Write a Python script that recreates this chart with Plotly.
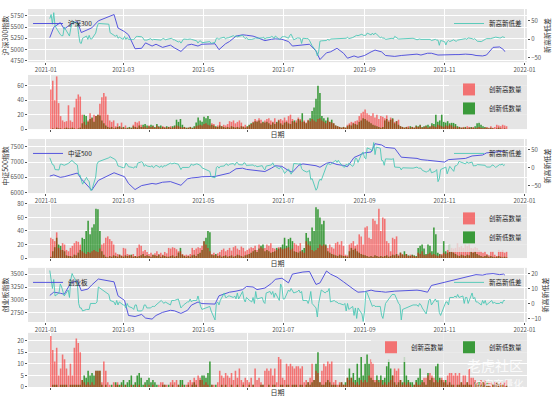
import pandas as pd
import plotly.graph_objects as go

# ---------------- data ----------------
holidays = ["2021-02-11", "2021-02-12", "2021-02-15", "2021-02-16", "2021-02-17",
            "2021-04-05", "2021-05-03", "2021-05-04", "2021-05-05", "2021-06-14",
            "2021-09-20", "2021-09-21", "2021-10-01", "2021-10-04", "2021-10-05",
            "2021-10-06", "2021-10-07"]
trade_days = [d for d in pd.bdate_range("2021-01-04", "2021-12-17")
              if d.strftime("%Y-%m-%d") not in holidays]

# index closes sampled every third trading day (plus the last day)
line_idx = list(range(0, 232, 3)) + [232]

hs300 = [5267, 5496, 5600, 5458, 5565, 5626, 5380, 5450, 5484, 5640,
         5780, 5480, 5400, 5330, 5020, 5030, 5150, 5080, 5120, 5050,
         5100, 5040, 4960, 5100, 5120, 5080, 5120, 5130, 5000, 5130,
         5180, 5300, 5330, 5320, 5300, 5270, 5200, 5230, 5240, 5230,
         5180, 5080, 5100, 5110, 5120, 4970, 4780, 4930, 4950, 5030,
         4920, 4810, 4860, 4830, 4870, 4950, 4990, 4950, 4870, 4850,
         4870, 4900, 4880, 4920, 4920, 4880, 4890, 4880, 4890, 4890,
         4900, 4890, 4870, 4860, 4880, 5050, 5060, 5000,
         4955]
zz500 = [6540, 6580, 6500, 6520, 6580, 6640, 6450, 6200, 6080, 6400,
         6650, 6600, 6520, 6300, 6100, 6230, 6250, 6300, 6280, 6340,
         6360, 6320, 6240, 6450, 6480, 6500, 6520, 6530, 6560, 6600,
         6640, 6780, 6800, 6760, 6740, 6730, 6690, 6800, 6880, 6860,
         6720, 6670, 6900, 6940, 6920, 6880, 6830, 6960, 6990, 6920,
         6890, 6850, 7150, 7200, 7300, 7330, 7600, 7560, 7480, 7450,
         7160, 7120, 7080, 7060, 7050, 7040, 7000, 7080, 7090, 7100,
         7120, 7200, 7210, 7230, 7300, 7320, 7340, 7340,
         7360]
cyb = [3087, 3150, 3130, 3110, 3330, 3370, 3180, 3210, 3290, 3405,
       3350, 3080, 2990, 2700, 2680, 2720, 2650, 2630, 2700, 2760,
       2800, 2790, 2740, 2800, 2900, 2960, 2930, 2920, 3080, 3120,
       3150, 3170, 3200, 3260, 3250, 3200, 3230, 3320, 3400, 3420,
       3330, 3500, 3530, 3540, 3550, 3300, 3330, 3560, 3500, 3440,
       3350, 3290, 3200, 3150, 3160, 3190, 3170, 3160, 3150, 3170,
       3180, 3190, 3180, 3150, 3280, 3310, 3340, 3360, 3380, 3400,
       3440, 3470, 3490, 3480, 3500, 3510, 3490, 3500,
       3480]

# daily counts of new highs / new lows
hs300_high = [55, 67, 40, 73, 36, 18, 12, 10, 11, 33,
              12, 10, 30, 42, 48, 45, 20, 10, 6, 12,
              22, 15, 20, 18, 20, 35, 44, 50, 45, 20,
              12, 10, 12, 4, 8, 3, 9, 2, 5, 1,
              2, 1, 6, 10, 9, 11, 6, 3, 4, 2,
              5, 3, 4, 2, 5, 3, 2, 4, 3, 2,
              3, 4, 2, 3, 5, 4, 3, 2, 3, 1,
              2, 3, 1, 2, 4, 5, 6, 5, 7, 8,
              6, 5, 8, 7, 3, 5, 10, 4, 6, 5,
              7, 11, 10, 12, 8, 10, 12, 9, 4, 6,
              3, 5, 7, 10, 14, 12, 15, 13, 9, 12,
              14, 15, 12, 10, 15, 9, 13, 14, 12, 16,
              12, 18, 20, 14, 10, 12, 16, 14, 10, 12,
              9, 13, 11, 14, 12, 10, 14, 15, 12, 10,
              8, 12, 10, 9, 8, 5, 4, 3, 2, 3,
              2, 6, 8, 10, 9, 11, 12, 18, 22, 24,
              27, 22, 20, 18, 22, 16, 20, 14, 18, 17,
              15, 19, 12, 16, 14, 10, 11, 13, 4, 3,
              2, 3, 4, 2, 3, 2, 4, 3, 5, 2,
              3, 4, 2, 3, 5, 4, 3, 6, 5, 4,
              3, 5, 4, 6, 5, 3, 4, 2, 3, 2,
              3, 2, 4, 3, 2, 3, 1, 2, 3, 2,
              1, 2, 3, 2, 4, 2, 3, 6, 5, 4,
              6, 5, 4]
hs300_low = [0, 1, 0, 2, 1, 1, 0, 1, 2, 1,
             1, 2, 1, 0, 1, 2, 8, 20, 18, 10,
             14, 16, 10, 18, 20, 19, 12, 8, 5, 3,
             2, 3, 1, 2, 3, 4, 2, 3, 1, 2,
             3, 2, 4, 3, 2, 5, 3, 6, 7, 5,
             4, 6, 5, 3, 7, 4, 5, 3, 2, 4,
             3, 2, 4, 5, 13, 10, 14, 6, 3, 2,
             2, 3, 2, 4, 9, 16, 12, 10, 17, 15,
             18, 14, 6, 5, 4, 3, 5, 4, 3, 2,
             3, 2, 4, 3, 2, 3, 2, 4, 3, 2,
             4, 6, 8, 9, 11, 10, 12, 8, 10, 9,
             10, 8, 6, 9, 7, 10, 12, 8, 6, 9,
             10, 8, 7, 11, 12, 9, 14, 12, 22, 10,
             8, 12, 15, 25, 30, 42, 60, 50, 18, 15,
             12, 16, 10, 13, 8, 5, 4, 3, 2, 3,
             2, 4, 6, 5, 8, 7, 6, 10, 12, 15,
             14, 12, 10, 8, 6, 5, 4, 3, 2, 3,
             12, 14, 10, 13, 15, 8, 11, 6, 4, 3,
             2, 3, 2, 4, 3, 2, 5, 4, 6, 3,
             4, 5, 6, 4, 8, 7, 20, 10, 12, 20,
             10, 9, 11, 8, 10, 9, 7, 4, 3, 2,
             2, 3, 1, 2, 3, 2, 4, 8, 10, 6,
             4, 3, 2, 1, 2, 1, 0, 1, 2, 1,
             0, 1, 0]
zz500_high = [30, 28, 25, 38, 15, 12, 22, 20, 12, 10,
              15, 18, 22, 25, 24, 20, 10, 8, 6, 9,
              8, 10, 12, 10, 9, 14, 20, 22, 30, 32,
              28, 25, 20, 8, 6, 5, 4, 15, 14, 6,
              5, 4, 6, 3, 15, 20, 18, 10, 12, 9,
              6, 8, 5, 7, 10, 6, 8, 5, 9, 7,
              15, 14, 16, 15, 13, 10, 10, 6, 4, 5,
              4, 6, 15, 12, 14, 16, 15, 18, 25, 20,
              15, 10, 6, 8, 5, 7, 9, 12, 14, 10,
              12, 15, 11, 16, 18, 14, 12, 17, 15, 10,
              12, 14, 16, 15, 18, 12, 20, 16, 14, 15,
              20, 18, 22, 15, 14, 12, 16, 15, 13, 14,
              15, 16, 12, 14, 22, 20, 18, 22, 10, 8,
              25, 20, 18, 12, 10, 12, 15, 20, 18, 20,
              18, 15, 20, 16, 14, 22, 24, 20, 25, 18,
              5, 4, 20, 22, 25, 18, 20, 35, 32, 20,
              45, 47, 30, 28, 58, 55, 50, 73, 40, 60,
              58, 25, 22, 10, 30, 28, 32, 5, 8, 6,
              4, 6, 3, 5, 4, 3, 2, 8, 6, 10,
              5, 4, 6, 8, 5, 6, 4, 3, 5, 6,
              8, 6, 12, 10, 15, 14, 15, 22, 16, 18,
              15, 20, 18, 20, 15, 14, 16, 15, 12, 10,
              8, 10, 6, 4, 10, 10, 5, 3, 12, 10,
              12, 8, 10]
zz500_low = [2, 10, 16, 30, 20, 18, 12, 10, 4, 3,
             3, 2, 5, 4, 8, 12, 30, 28, 40, 55,
             35, 45, 50, 73, 72, 40, 10, 5, 2, 1,
             3, 2, 4, 3, 2, 5, 3, 2, 4, 3,
             4, 5, 2, 3, 2, 3, 4, 6, 3, 4,
             3, 2, 5, 4, 3, 5, 2, 4, 3, 2,
             2, 3, 4, 2, 3, 8, 15, 5, 3, 2,
             3, 2, 4, 5, 3, 6, 8, 12, 25, 30,
             40, 38, 5, 4, 6, 3, 4, 2, 3, 4,
             2, 3, 4, 2, 3, 5, 4, 3, 2, 4,
             5, 6, 8, 10, 12, 9, 14, 18, 20, 10,
             12, 10, 8, 9, 10, 15, 14, 16, 20, 30,
             18, 28, 30, 25, 10, 9, 8, 10, 12, 15,
             37, 30, 25, 45, 40, 75, 72, 60, 50, 55,
             20, 10, 8, 6, 5, 4, 3, 5, 4, 3,
             3, 2, 10, 15, 12, 14, 10, 8, 6, 5,
             4, 3, 2, 3, 2, 4, 3, 2, 3, 2,
             3, 4, 2, 3, 5, 4, 6, 3, 8, 5,
             10, 6, 4, 3, 5, 4, 3, 15, 18, 20,
             14, 6, 20, 18, 10, 45, 35, 8, 6, 4,
             25, 10, 8, 20, 10, 8, 6, 4, 3, 5,
             4, 3, 5, 4, 10, 8, 10, 6, 4, 3,
             2, 3, 4, 2, 3, 2, 1, 2, 3, 2,
             1, 2, 1]
cyb_high = [22, 16, 11, 17, 5, 8, 14, 12, 8, 5,
            10, 5, 17, 21, 19, 15, 3, 2, 1, 2,
            1, 2, 1, 7, 7, 7, 2, 11, 7, 2,
            1, 0, 2, 1, 2, 0, 1, 0, 1, 0,
            0, 1, 0, 1, 0, 1, 0, 0, 1, 0,
            1, 0, 1, 0, 0, 1, 2, 2, 1, 1,
            0, 2, 3, 2, 3, 1, 0, 1, 0, 1,
            2, 3, 2, 4, 3, 5, 4, 3, 1, 2,
            1, 0, 1, 1, 0, 2, 7, 5, 4, 6,
            5, 4, 6, 3, 7, 4, 8, 3, 2, 4,
            3, 2, 4, 1, 8, 3, 4, 2, 1, 7,
            8, 7, 8, 5, 8, 2, 13, 12, 4, 3,
            10, 9, 10, 9, 8, 9, 9, 8, 9, 2,
            3, 2, 4, 10, 3, 7, 6, 2, 7, 10,
            9, 11, 10, 11, 2, 3, 1, 2, 2, 1,
            1, 4, 3, 4, 2, 1, 2, 1, 3, 2,
            3, 2, 5, 12, 10, 3, 3, 2, 3, 1,
            2, 1, 2, 3, 5, 8, 7, 8, 3, 1,
            2, 1, 2, 1, 0, 1, 2, 1, 1, 2,
            4, 4, 5, 6, 5, 4, 3, 2, 3, 4,
            3, 2, 5, 6, 6, 5, 6, 5, 6, 2,
            5, 5, 2, 8, 4, 4, 3, 2, 1, 3,
            2, 3, 1, 2, 2, 1, 2, 2, 1, 2,
            1, 2, 3]
cyb_low = [0, 1, 1, 1, 0, 1, 1, 1, 1, 0,
           1, 1, 1, 1, 1, 1, 3, 5, 4, 7,
           5, 6, 5, 7, 7, 7, 1, 0, 1, 0,
           0, 1, 0, 2, 1, 1, 2, 3, 1, 2,
           3, 5, 1, 2, 5, 6, 4, 1, 2, 3,
           4, 2, 3, 2, 1, 0, 0, 1, 1, 0,
           1, 0, 1, 0, 0, 1, 3, 3, 1, 0,
           1, 0, 1, 2, 1, 0, 3, 5, 5, 4,
           6, 11, 1, 0, 1, 0, 0, 1, 0, 1,
           0, 0, 1, 0, 0, 1, 0, 0, 1, 0,
           0, 1, 0, 1, 0, 0, 0, 1, 1, 0,
           0, 1, 0, 1, 1, 0, 0, 1, 1, 0,
           1, 1, 0, 1, 1, 1, 0, 1, 1, 0,
           1, 2, 1, 2, 3, 10, 15, 2, 1, 1,
           2, 3, 2, 1, 1, 1, 0, 1, 2, 1,
           2, 4, 8, 4, 6, 3, 10, 4, 13, 5,
           10, 14, 10, 4, 3, 2, 5, 3, 5, 3,
           4, 9, 12, 8, 5, 2, 1, 2, 3, 2,
           13, 5, 3, 2, 2, 1, 3, 4, 8, 3,
           2, 1, 6, 3, 4, 2, 9, 10, 4, 3,
           2, 3, 1, 2, 1, 1, 0, 1, 1, 2,
           1, 1, 2, 1, 1, 0, 2, 1, 2, 1,
           2, 1, 2, 1, 0, 1, 1, 2, 1, 1,
           1, 0, 1]

panels = [
    dict(name="沪深300", ytitle="沪深300指数", close=hs300, high=hs300_high, low=hs300_low,
         lrange=[4722, 5903], ltick=[4750, 5000, 5250, 5500, 5750],
         rrange=[-62.5, 81], rtick=[-50, 0, 50], brange=[0, 75], btick=[0, 20, 40, 60]),
    dict(name="中证500", ytitle="中证500指数", close=zz500, high=zz500_high, low=zz500_low,
         lrange=[5985, 7757], ltick=[6000, 6500, 7000, 7500],
         rrange=[-71, 81], rtick=[-50, 0, 50], brange=[0, 80], btick=[0, 20, 40, 60, 80]),
    dict(name="创业板", ytitle="创业板指数", close=cyb, high=cyb_high, low=cyb_low,
         lrange=[2573, 3620], ltick=[2750, 3000, 3250, 3500],
         rrange=[-12.4, 23.75], rtick=[-10, 0, 10, 20], brange=[0, 23.4], btick=[0, 5, 10, 15, 20]),
]

# ---------------- styling / layout ----------------
FONT = "Noto Sans CJK SC, Noto Sans, sans-serif"
BG = "#E5E5E5"
TICKC = "#555555"
BLUE = "#4646DC"
TEAL = "#4CC7B6"
RED = "rgba(255,0,0,0.5)"
GREEN = "rgba(0,128,0,0.75)"
T, B = 4, 388                      # plot-area top / bottom (px)
H = B - T


def dom(top_px, bot_px):
    return [(B - bot_px) / H, (B - top_px) / H]


line_dom = [dom(4, 58), dom(136, 191), dom(267, 322)]
bar_dom = [dom(71, 126), dom(202, 257), dom(333, 388)]

fig = go.Figure()
layout = dict(
    width=553, height=399, autosize=False,
    margin=dict(l=27, r=23, t=T, b=399 - B, pad=0),
    paper_bgcolor="white", plot_bgcolor=BG,
    font=dict(family=FONT, size=6, color=TICKC),
    barmode="overlay", bargap=0.2, showlegend=True,
)

date_x = [trade_days[i] for i in line_idx]
bar_x = list(range(len(trade_days)))

for k, p in enumerate(panels):
    xa_line = 2 * k + 1
    xa_bar = 2 * k + 2
    ya_l = 3 * k + 1
    ya_r = 3 * k + 2
    ya_b = 3 * k + 3
    xl = "x" if xa_line == 1 else f"x{xa_line}"
    xb = f"x{xa_bar}"
    yl = "y" if ya_l == 1 else f"y{ya_l}"
    yb = f"y{ya_b}"
    lg_l = "legend" if k == 0 else f"legend{3 * k + 1}"
    lg_r = f"legend{3 * k + 2}"
    lg_b = f"legend{3 * k + 3}"

    diff = [h - l for h, l in zip(p["high"], p["low"])]

    fig.add_trace(go.Scatter(x=date_x, y=p["close"], mode="lines", name=p["name"],
                             line=dict(color=BLUE, width=0.9), xaxis=xl, yaxis=yl, legend=lg_l))
    fig.add_trace(go.Scatter(x=trade_days[:len(diff)], y=diff, mode="lines", name="新高新低差",
                             line=dict(color=TEAL, width=0.9), xaxis=xl, yaxis=f"y{ya_r}",
                             legend=lg_r))
    # new lows first, new highs drawn over them
    fig.add_trace(go.Bar(x=bar_x[:len(p["low"])], y=p["low"], name="创新低数量",
                         marker=dict(color=GREEN, line=dict(width=0)),
                         width=0.8, xaxis=xb, yaxis=yb, legend=lg_b, legendrank=2))
    fig.add_trace(go.Bar(x=bar_x[:len(p["high"])], y=p["high"], name="创新高数量",
                         marker=dict(color=RED, line=dict(width=0)),
                         width=0.8, xaxis=xb, yaxis=yb, legend=lg_b, legendrank=1))

    common_tick = dict(tickfont=dict(size=6, color=TICKC, family=FONT), ticks="outside",
                       ticklen=2, tickcolor=TICKC, tickwidth=0.6, showline=False,
                       zeroline=False)

    xkey_l = "xaxis" if xa_line == 1 else f"xaxis{xa_line}"
    layout[xkey_l] = dict(domain=[0, 1], anchor=yl, type="date",
                          range=["2020-12-18 09:00", "2022-01-02 21:00"],
                          tick0="2021-01-01", dtick="M2", tickformat="%Y-%m",
                          showgrid=True, gridcolor="white", gridwidth=0.8, **common_tick)
    ykey_l = "yaxis" if ya_l == 1 else f"yaxis{ya_l}"
    layout[ykey_l] = dict(domain=line_dom[k], anchor=xl, range=p["lrange"],
                          tickvals=p["ltick"], showgrid=True, gridcolor="white", gridwidth=0.8,
                          title=dict(text=p["ytitle"], standoff=2,
                                     font=dict(size=7, color="#333333", family=FONT)),
                          **common_tick)
    layout[f"yaxis{ya_r}"] = dict(overlaying=yl, side="right", anchor=xl, range=p["rrange"],
                                  tickvals=p["rtick"], showgrid=False,
                                  title=dict(text="新高新低差", standoff=2,
                                             font=dict(size=7, color="#333333", family=FONT)),
                                  **common_tick)
    layout[f"xaxis{xa_bar}"] = dict(domain=[0, 1], anchor=yb, range=[-11.6, 242.4],
                                    tickvals=[0, 50, 100, 150, 200], showticklabels=False,
                                    showgrid=True, gridcolor="white", gridwidth=0.8,
                                    title=dict(text="日期", standoff=1,
                                               font=dict(size=7, color="#333333", family=FONT)),
                                    **common_tick)
    layout[f"yaxis{ya_b}"] = dict(domain=bar_dom[k], anchor=xb, range=p["brange"],
                                  tickvals=p["btick"], showgrid=True, gridcolor="white",
                                  gridwidth=0.8, **common_tick)

    top_line = line_dom[k][1]
    top_bar = bar_dom[k][1]
    line_leg = dict(bgcolor="rgba(0,0,0,0)", borderwidth=0,
                    font=dict(size=6.5, color="#222222", family=FONT),
                    itemwidth=30, tracegroupgap=0)
    bar_leg = dict(line_leg, bgcolor="rgba(229,229,229,0.8)")
    layout[lg_l] = dict(x=0.0, y=top_line, xanchor="left", yanchor="top", **line_leg)
    layout[lg_r] = dict(x=1.0, y=top_line, xanchor="right", yanchor="top", **line_leg)
    if k < 2:
        layout[lg_b] = dict(x=1.0, y=top_bar, xanchor="right", yanchor="top", **bar_leg)
    else:
        layout[lg_b] = dict(x=1.0, y=top_bar, xanchor="right", yanchor="top",
                            orientation="h", **bar_leg)

fig.update_layout(**layout)

# watermark
fig.add_annotation(text="老虎社区", xref="paper", yref="paper", x=0.995, y=0.058,
                   xanchor="right", yanchor="middle", showarrow=False,
                   font=dict(size=14, color="rgba(255,255,255,0.85)", family=FONT))
fig.add_annotation(text="@宫商量化", xref="paper", yref="paper", x=0.995, y=0.008,
                   xanchor="right", yanchor="middle", showarrow=False,
                   font=dict(size=10, color="rgba(255,255,255,0.85)", family=FONT))

fig.write_html("out.html", config={"displayModeBar": False},
               post_script="document.body.style.margin='0';")
